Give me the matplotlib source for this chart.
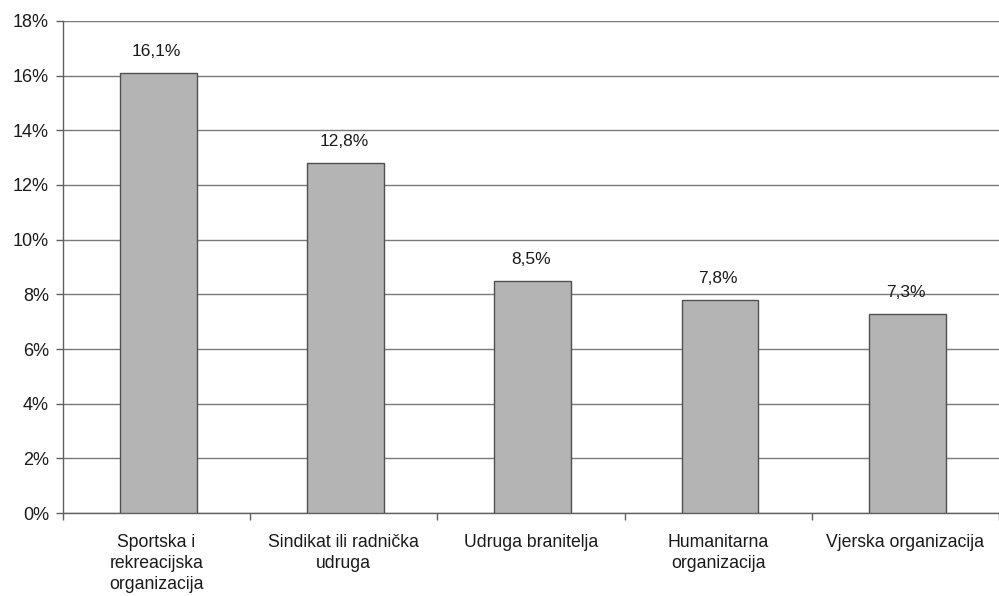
import matplotlib.pyplot as plt
import numpy as np

plt.rcParams['font.family'] = ['Liberation Sans', 'DejaVu Sans']

categories = ["Sportska i\nrekreacijska\norganizacija", "Sindikat ili radnička\nudruga",
              "Udruga branitelja", "Humanitarna\norganizacija", "Vjerska organizacija"]
values = [16.1, 12.8, 8.5, 7.8, 7.3]
value_labels = ["16,1%", "12,8%", "8,5%", "7,8%", "7,3%"]
yticks = [0, 2, 4, 6, 8, 10, 12, 14, 16, 18]

fig = plt.figure(figsize=(9.99, 5.96), dpi=100)
ax = fig.add_axes([0.063, 0.139, 0.937, 0.826])

x = np.arange(len(values))
ax.bar(x + 0.01, values, width=0.41, color='#b4b4b4', edgecolor='#505050', linewidth=1, zorder=3)

for xi, v, lab in zip(x, values, value_labels):
    ax.annotate(lab, (xi, v), xytext=(0, 10), textcoords='offset points',
                ha='center', va='bottom', fontsize=12.5, color='#1a1a1a')

ax.set_ylim(0, 18)
ax.set_xlim(-0.5, 4.45)
ax.set_yticks(yticks)
ax.set_yticklabels([f"{t}%" for t in yticks], fontsize=13, color='#1a1a1a')
ax.yaxis.grid(True, color='#7a7a7a', linewidth=1, zorder=0)
ax.set_axisbelow(True)

ax.set_xticks(x)
ax.set_xticklabels(categories, fontsize=12.7, color='#1a1a1a', linespacing=1.3)
ax.set_xticks(np.arange(-0.5, 5, 1), minor=True)
ax.tick_params(axis='x', which='major', length=0, pad=15)
ax.tick_params(axis='x', which='minor', length=5, color='#606060', width=1)
ax.tick_params(axis='y', length=5, color='#606060', width=1, pad=5)

for s in ['top', 'right']:
    ax.spines[s].set_visible(False)
for s in ['left', 'bottom']:
    ax.spines[s].set_color('#606060')
    ax.spines[s].set_linewidth(1)

fig.savefig('out.png', dpi=100)
